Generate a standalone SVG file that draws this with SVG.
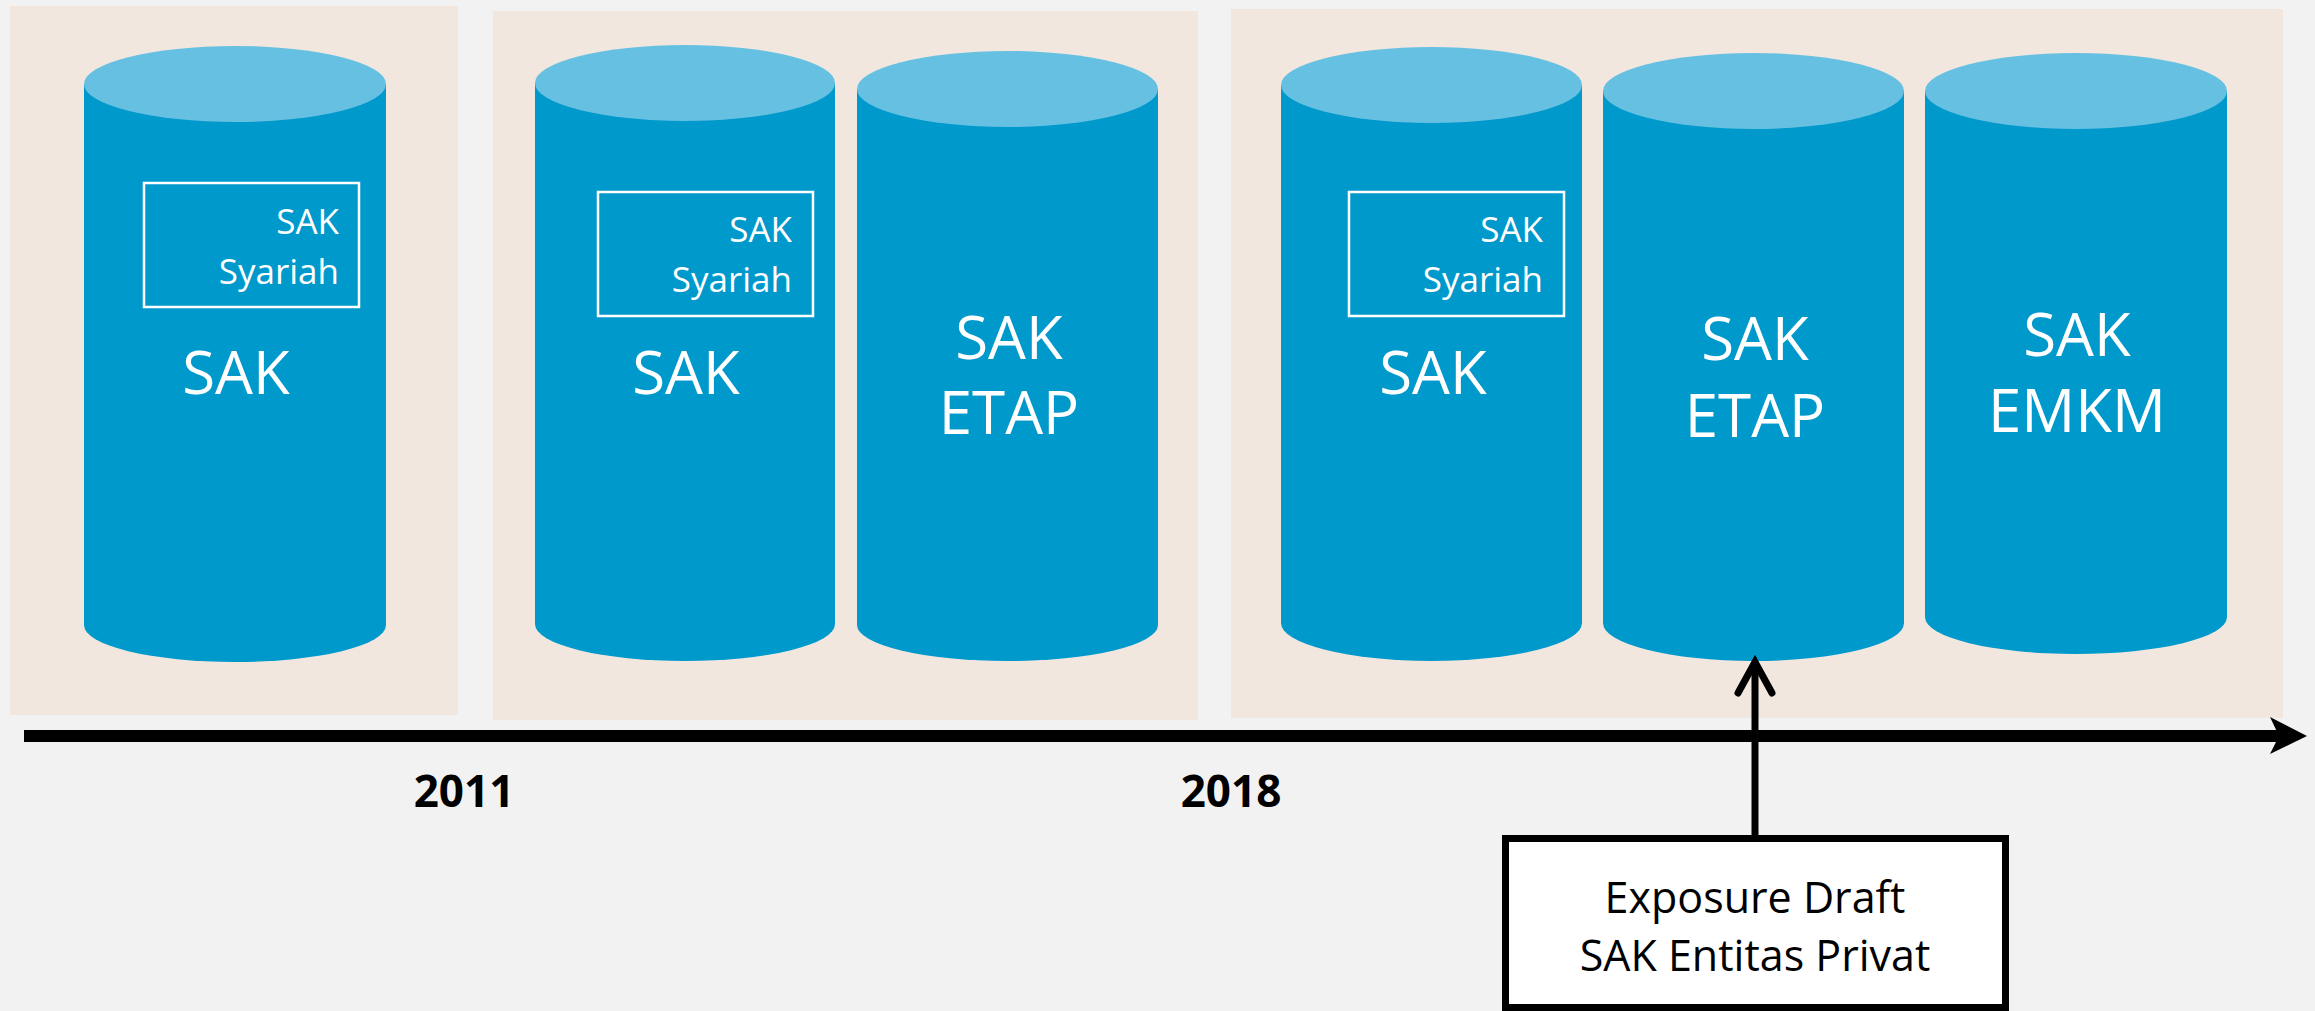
<svg xmlns="http://www.w3.org/2000/svg" width="2315" height="1011" viewBox="0 0 2315 1011">
<style>
.panel{fill:#F1E7DF}
.body{fill:#0099CC}
.top{fill:#66C0E2}
.inbox{fill:none;stroke:#FFFFFF;stroke-width:2.5}
.wt{fill:#FFFFFF;font-family:"Open Sans","Noto Sans",sans-serif}
.big{font-size:60px;text-anchor:middle}
.small{font-size:35px;text-anchor:end}
.year{font-family:"Open Sans","Noto Sans",sans-serif;font-weight:bold;font-size:44px;text-anchor:middle;fill:#000}
.note{font-family:"Open Sans","Noto Sans",sans-serif;font-size:43px;text-anchor:middle;fill:#000}
</style>
<rect width="2315" height="1011" fill="#F2F2F2"/>

<g id="panel-2011"><rect class="panel" x="10" y="6" width="448" height="709"/></g>
<g id="panel-mid"><rect class="panel" x="493" y="11" width="705" height="709"/></g>
<g id="panel-2018"><rect class="panel" x="1231" y="9" width="1052" height="709"/></g>

<g id="cyl-sak-1">
<path class="body" d="M84,84 L84,625 A151,37 0 0 0 386,625 L386,84 Z"/>
<ellipse class="top" cx="235" cy="84" rx="151" ry="38"/>
<rect class="inbox" x="144" y="183" width="215" height="124"/>
<text class="wt small" x="339" y="234">SAK</text>
<text class="wt small" x="339" y="284">Syariah</text>
<text class="wt big" x="236" y="394">SAK</text>
</g>

<g id="cyl-sak-2">
<path class="body" d="M535,83 L535,624 A150,37 0 0 0 835,624 L835,83 Z"/>
<ellipse class="top" cx="685" cy="83" rx="150" ry="38"/>
<rect class="inbox" x="598" y="192" width="215" height="124"/>
<text class="wt small" x="792" y="242">SAK</text>
<text class="wt small" x="792" y="292">Syariah</text>
<text class="wt big" x="686" y="394">SAK</text>
</g>

<g id="cyl-etap-2">
<path class="body" d="M857,89 L857,625 A150.5,36 0 0 0 1158,625 L1158,89 Z"/>
<ellipse class="top" cx="1007.5" cy="89" rx="150.5" ry="38"/>
<text class="wt big" x="1009" y="359">SAK</text>
<text class="wt big" x="1009" y="434">ETAP</text>
</g>

<g id="cyl-sak-3">
<path class="body" d="M1281,85 L1281,623 A150.5,38 0 0 0 1582,623 L1582,85 Z"/>
<ellipse class="top" cx="1431.5" cy="85" rx="150.5" ry="38"/>
<rect class="inbox" x="1349" y="192" width="215" height="124"/>
<text class="wt small" x="1543" y="242">SAK</text>
<text class="wt small" x="1543" y="292">Syariah</text>
<text class="wt big" x="1433" y="394">SAK</text>
</g>

<g id="cyl-etap-3">
<path class="body" d="M1603,91 L1603,623 A150.5,38 0 0 0 1904,623 L1904,91 Z"/>
<ellipse class="top" cx="1753.5" cy="91" rx="150.5" ry="38"/>
<text class="wt big" x="1755" y="360">SAK</text>
<text class="wt big" x="1755" y="437">ETAP</text>
</g>

<g id="cyl-emkm-3">
<path class="body" d="M1925,91 L1925,617 A151,37 0 0 0 2227,617 L2227,91 Z"/>
<ellipse class="top" cx="2076" cy="91" rx="151" ry="38"/>
<text class="wt big" x="2077" y="356">SAK</text>
<text class="wt big" x="2077" y="432">EMKM</text>
</g>

<g id="timeline">
<line x1="24" y1="736" x2="2280" y2="736" stroke="#000" stroke-width="12"/>
<path d="M2307,736 L2270,717 L2279,736 L2270,754 Z" fill="#000"/>
<text class="year" x="464" y="807">2011</text>
<text class="year" x="1231" y="807">2018</text>
</g>

<g id="exposure-draft">
<rect x="1505.5" y="838.5" width="500" height="169" fill="#FFFFFF" stroke="#000" stroke-width="7"/>
<text class="note" x="1755" y="913">Exposure Draft</text>
<text class="note" x="1755" y="971">SAK Entitas Privat</text>
</g>

<g id="connectors">
<line x1="1755" y1="835" x2="1755" y2="666" stroke="#000" stroke-width="7"/>
<polyline points="1738,693 1755,662 1772,693" fill="none" stroke="#000" stroke-width="7" stroke-linecap="round" stroke-linejoin="miter"/>
</g>
</svg>
